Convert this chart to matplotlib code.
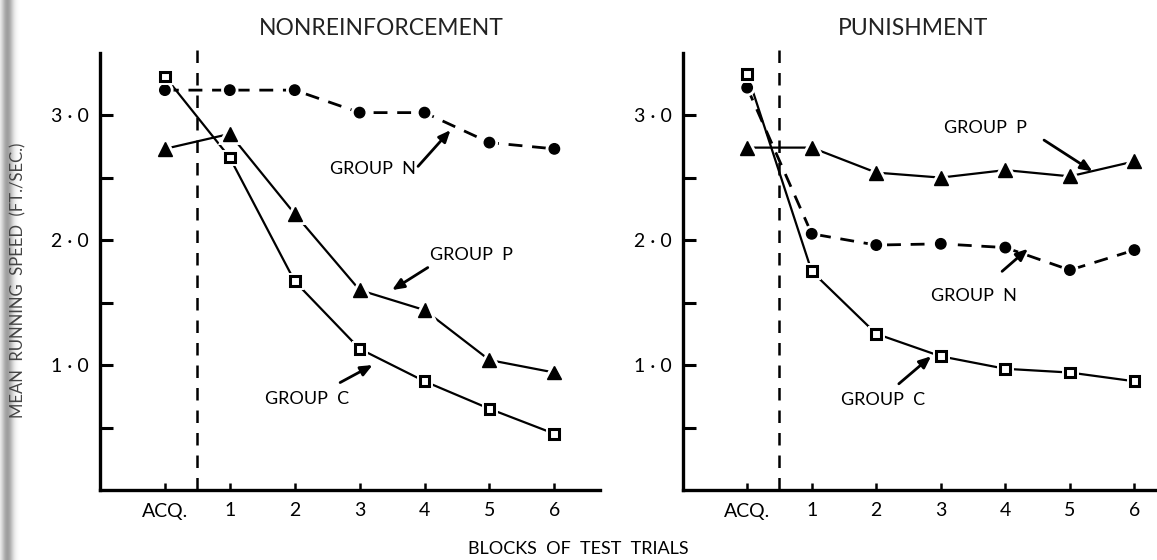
import matplotlib
matplotlib.use("Agg")
import matplotlib.pyplot as plt
import matplotlib.patheffects as pe
import numpy as np

plt.rcParams['font.family'] = ['Lato', 'DejaVu Sans']

blocks = ['ACQ.', '1', '2', '3', '4', '5', '6']
x = np.arange(len(blocks))

# nonreinforcement panel
nr_group_n = [3.20, 3.20, 3.20, 3.02, 3.02, 2.78, 2.73]
nr_group_p = [2.73, 2.85, 2.21, 1.60, 1.44, 1.04, 0.94]
nr_group_c = [3.31, 2.66, 1.67, 1.13, 0.87, 0.65, 0.45]

# punishment panel
pu_group_p = [2.74, 2.74, 2.54, 2.50, 2.56, 2.51, 2.63]
pu_group_n = [3.22, 2.05, 1.96, 1.97, 1.94, 1.76, 1.92]
pu_group_c = [3.33, 1.75, 1.25, 1.07, 0.97, 0.94, 0.87]

ytick_vals = [1.0, 2.0, 3.0]
ytick_labels = ['1 · 0', '2 · 0', '3 · 0']

fig = plt.figure(figsize=(11.57, 5.6), dpi=100)

# shadow of the page binding along the left edge
bg = fig.add_axes([0, 0, 1, 1], zorder=-10)
shade = np.exp(-((np.arange(60) - 7.0) / 6.0) ** 2) * 0.38
bg.imshow(1 - np.tile(shade, (10, 1)), cmap='gray', vmin=0, vmax=1,
          extent=[0, 60, 0, 560], aspect='auto')
bg.set_xlim(0, 1157)
bg.set_ylim(0, 560)
bg.axis('off')

halo = [pe.Stroke(linewidth=5, foreground='white'), pe.Normal()]
fs = 13


def series(ax, vals, marker, dashed):
    if dashed:
        ax.plot(x, vals, color='black', lw=2.0, ls=(0, (5, 3.5)), zorder=2)
    else:
        ax.plot(x, vals, color='black', lw=1.6, ls='-', zorder=2)
    if marker == 's':
        ax.plot(x, vals, ls='none', marker='s', ms=7, mfc='white',
                mec='black', mew=2.2, zorder=4, path_effects=halo)
    elif marker == '^':
        ax.plot(x, vals, ls='none', marker='^', ms=10, mfc='black',
                mec='black', zorder=4, path_effects=halo)
    else:
        ax.plot(x, vals, ls='none', marker='o', ms=7.5, mfc='black',
                mec='black', zorder=4, path_effects=halo)


def setup(ax, xmax, title, title_x):
    ax.set_xlim(-1.0, xmax)
    ax.set_ylim(0, 3.5)
    for s in ['top', 'right']:
        ax.spines[s].set_visible(False)
    for s in ['left', 'bottom']:
        ax.spines[s].set_linewidth(2.4)
    ax.set_xticks(x)
    ax.set_xticklabels(blocks, fontsize=fs + 1)
    ax.set_yticks(ytick_vals)
    ax.set_yticklabels(ytick_labels, fontsize=fs + 1)
    ax.set_yticks([0.5, 1.5, 2.5], minor=True)
    ax.tick_params(axis='y', which='both', direction='in', length=9,
                   width=2.2, pad=8)
    ax.tick_params(axis='x', direction='in', length=5, width=1.8, pad=9)
    ax.axvline(0.5, ymin=0, ymax=1.01, color='black', lw=1.8,
               ls=(0, (5, 4)), clip_on=False, zorder=1)
    ax.set_title(title, fontsize=16.5, color='#222222', pad=13, x=title_x)


def note(ax, text, xy, xytext, tx, ty):
    ax.annotate('', xy=xy, xytext=xytext,
                arrowprops=dict(arrowstyle='-|>,head_length=0.7,head_width=0.3',
                                color='black', lw=2.0, shrinkA=0, shrinkB=0))
    ax.text(tx, ty, text, fontsize=fs, ha='left', va='center')


ax1 = fig.add_axes([0.0864, 0.125, 0.432, 0.781])
setup(ax1, 6.7, 'NONREINFORCEMENT', 0.562)
series(ax1, nr_group_n, 'o', True)
series(ax1, nr_group_p, '^', False)
series(ax1, nr_group_c, 's', False)
note(ax1, 'GROUP  N', (4.4, 2.88), (3.9, 2.59), 2.55, 2.57)
note(ax1, 'GROUP  P', (3.5, 1.6), (4.05, 1.78), 4.08, 1.88)
note(ax1, 'GROUP  C', (3.2, 1.0), (2.7, 0.86), 1.55, 0.73)

ax2 = fig.add_axes([0.590, 0.125, 0.41, 0.781])
setup(ax2, 6.35, 'PUNISHMENT', 0.485)
series(ax2, pu_group_p, '^', False)
series(ax2, pu_group_n, 'o', True)
series(ax2, pu_group_c, 's', False)
note(ax2, 'GROUP  P', (5.35, 2.55), (4.6, 2.8), 3.05, 2.9)
note(ax2, 'GROUP  N', (4.35, 1.93), (3.95, 1.75), 2.85, 1.55)
note(ax2, 'GROUP  C', (2.85, 1.07), (2.35, 0.85), 1.45, 0.72)

fig.text(0.016, 0.5, 'MEAN  RUNNING  SPEED  (FT./SEC.)', rotation=90,
         fontsize=fs - 1, ha='center', va='center', color='#444444')
fig.text(0.5, 0.02, 'BLOCKS  OF  TEST  TRIALS', fontsize=fs,
         ha='center', va='center')

fig.savefig('out.png', dpi=100)
